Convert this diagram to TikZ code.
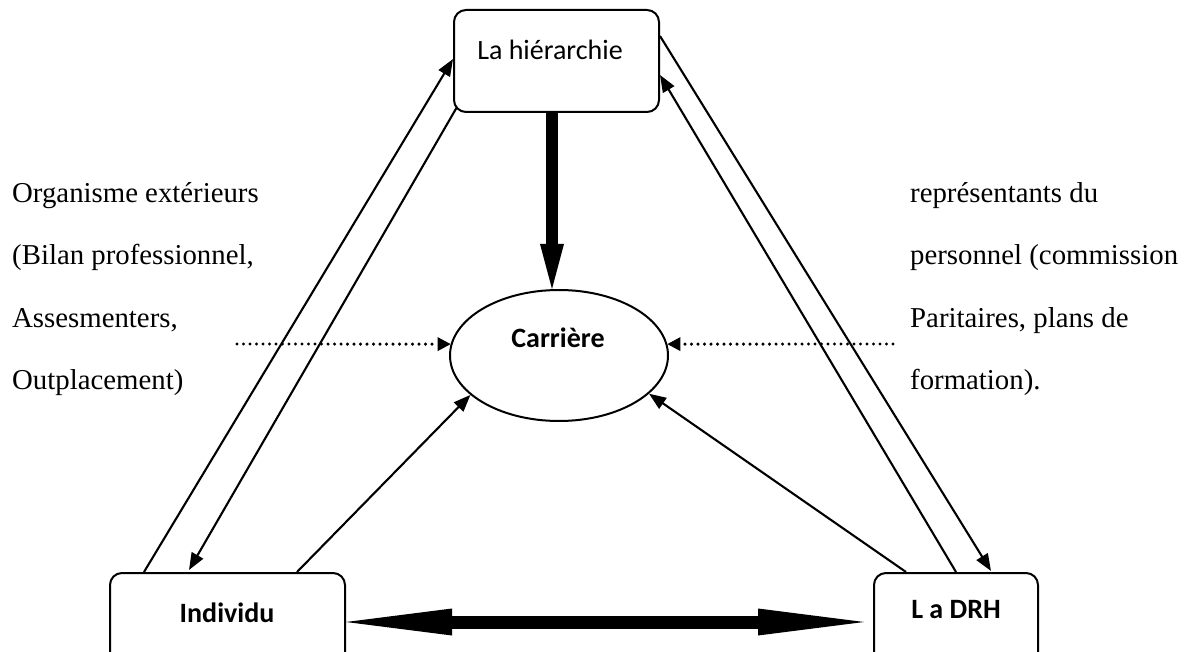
\documentclass[tikz,border=0pt]{standalone}
\usepackage{fontspec}
\setmainfont{Liberation Serif}
\newfontfamily\boxfont{Carlito}
\usetikzlibrary{arrows.meta,shapes.geometric}

\begin{document}
\begin{tikzpicture}[x=1pt,y=-1pt,
  box/.style={draw,line width=2pt,rounded corners=12pt,inner sep=0pt},
  boxlabel/.style={anchor=base,inner sep=0pt,font=\boxfont\fontsize{28}{30}\selectfont},
  boldlabel/.style={boxlabel,font=\boxfont\bfseries\fontsize{28}{30}\selectfont},
  sidetext/.style={anchor=base west,inner sep=0pt,font=\fontsize{28.8}{30}\selectfont},
  thinarrow/.style={line width=2.1pt,-{Triangle[length=17pt,width=13pt]}},
  dotarrow/.style={line width=3.4pt,line cap=round,dash pattern=on 0pt off 6.5pt,
    -{Triangle[length=13pt,width=14pt,line width=0pt]}},
  thickarrow/.style={line width=12pt,-{Triangle[length=45pt,width=24pt,line width=0pt]}},
  bothway/.style={line width=13pt,
    {Triangle[length=106pt,width=27pt,line width=0pt]}-{Triangle[length=106pt,width=27pt,line width=0pt]}}]

\useasboundingbox (0,0) rectangle (1189,652);
\clip (0,0) rectangle (1189,652);

% the three actors
\node[box,minimum width=205pt,minimum height=102pt] (hier) at (556.5,61) {};
\node[box,minimum width=235pt,minimum height=102pt] (indiv) at (227.5,624) {};
\node[box,minimum width=164pt,minimum height=102pt] (drh) at (956,624) {};
\node[boxlabel] (hierlbl) at (550,60) {La hiérarchie};
\node[boldlabel] (indivlbl) at (227,622) {Individu};
\node[boldlabel] (drhlbl) at (956,618) {L a DRH};

% the career in the middle
\node[draw,ellipse,line width=2pt,minimum width=218pt,minimum height=131pt,inner sep=0pt] (car) at (559,355.5) {};
\node[boldlabel] (carlbl) at (558,348) {Carrière};

% outside actors, left and right
\node[sidetext] (l1) at (12,203) {Organisme extérieurs};
\node[sidetext] (l2) at (12,265) {(Bilan professionnel,};
\node[sidetext] (l3) at (12,327) {Assesmenters,};
\node[sidetext] (l4) at (12,389) {Outplacement)};
\node[sidetext] (r1) at (910,203) {représentants du};
\node[sidetext] (r2) at (910,265) {personnel (commission};
\node[sidetext] (r3) at (910,327) {Paritaires, plans de};
\node[sidetext] (r4) at (910,389) {formation).};

\coordinate (dotL) at (237,344);
\coordinate (dotR) at (893,344);

% exchanges between the actors
\draw[thinarrow] ([xshift=35pt]indiv.north west) -- ([yshift=-50pt]hier.north west);
\draw[thinarrow] ([shift={(4pt,6pt)}]hier.south west) -- ([shift={(80pt,2pt)}]indiv.north west);
\draw[thinarrow] ([yshift=-27pt]hier.north east) -- ([shift={(118pt,1pt)}]drh.north west);
\draw[thinarrow] ([xshift=83pt]drh.north west) -- ([yshift=-66pt]hier.north east);

% influences on the career
\draw[thinarrow] ([xshift=188pt]indiv.north west) -- (car.204);
\draw[thinarrow] ([xshift=33pt]drh.north west) -- (car.337);
\draw[thickarrow] ([xshift=-4.5pt]hier.south) -- ([xshift=-7pt]car.north);
\draw[dotarrow] (dotL) -- (car.174);
\draw[dotarrow] (dotR) -- (car.6);

% individual and HR department
\draw[bothway] ([yshift=2pt]indiv.east) -- ([shift={(-9pt,2pt)}]drh.west);

\end{tikzpicture}
\end{document}
